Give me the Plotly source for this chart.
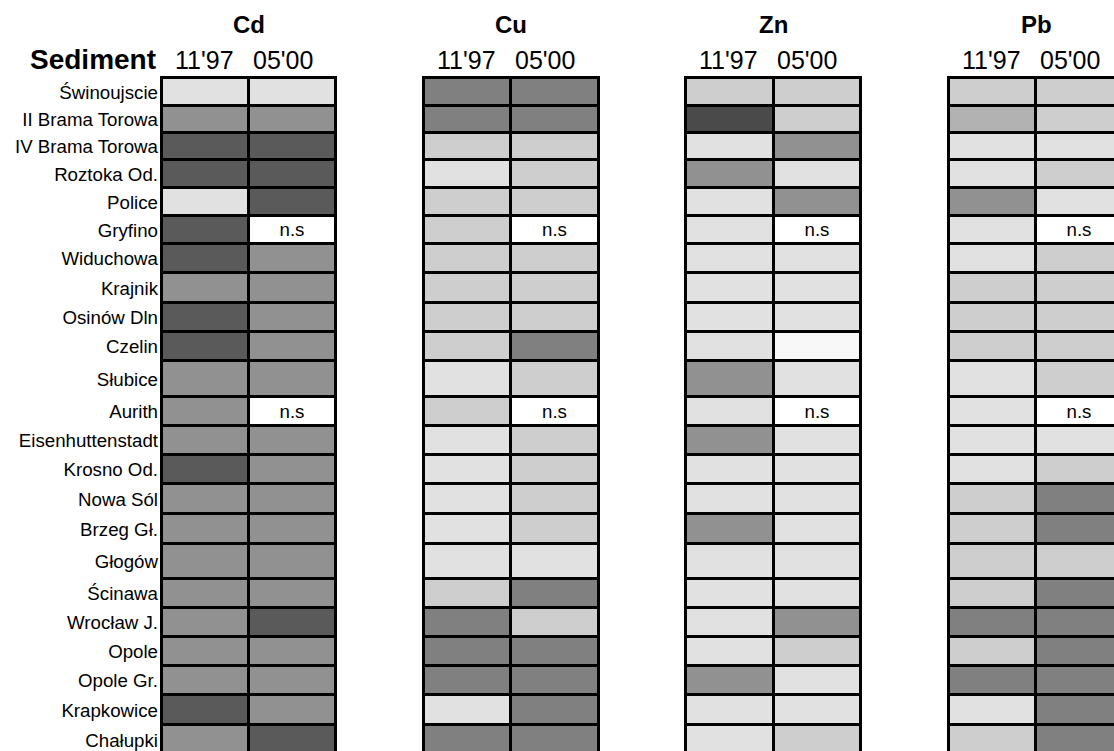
import plotly.graph_objects as go

# Sampling stations along the Odra, from the mouth upstream
stations = [
    "Świnoujscie", "II Brama Torowa", "IV Brama Torowa", "Roztoka Od.", "Police",
    "Gryfino", "Widuchowa", "Krajnik", "Osinów Dln", "Czelin", "Słubice", "Aurith",
    "Eisenhuttenstadt", "Krosno Od.", "Nowa Sól", "Brzeg Gł.", "Głogów", "Ścinawa",
    "Wrocław J.", "Opole", "Opole Gr.", "Krapkowice", "Chałupki",
]
periods = ["11'97", "05'00"]
metals = ["Cd", "Cu", "Zn", "Pb"]

# Contamination class of each station (None = not sampled, "n.s")
cd_1197 = [2, 5, 7, 7, 2, 7, 7, 5, 7, 7, 5, 5, 5, 7, 5, 5, 5, 5, 5, 5, 5, 7, 5]
cd_0500 = [2, 5, 7, 7, 7, None, 5, 5, 5, 5, 5, None, 5, 5, 5, 5, 5, 5, 7, 5, 5, 5, 7]
cu_1197 = [6, 6, 3, 2, 3, 3, 3, 3, 3, 3, 2, 3, 2, 2, 2, 2, 2, 3, 6, 6, 6, 2, 6]
cu_0500 = [6, 6, 3, 3, 3, None, 3, 3, 3, 6, 3, None, 3, 3, 3, 3, 2, 6, 3, 6, 6, 6, 6]
zn_1197 = [3, 8, 2, 5, 2, 2, 2, 2, 2, 2, 5, 2, 5, 2, 2, 5, 2, 2, 2, 2, 5, 2, 2]
zn_0500 = [3, 3, 5, 2, 5, None, 2, 2, 2, 1, 2, None, 2, 2, 2, 2, 2, 2, 5, 3, 2, 2, 3]
pb_1197 = [3, 4, 2, 2, 5, 2, 2, 3, 3, 3, 2, 2, 2, 2, 3, 3, 3, 3, 6, 3, 6, 2, 3]
pb_0500 = [3, 3, 2, 3, 2, None, 3, 3, 3, 3, 3, None, 2, 3, 6, 6, 3, 6, 6, 6, 6, 6, 6]

series = {
    "Cd": [cd_1197, cd_0500],
    "Cu": [cu_1197, cu_0500],
    "Zn": [zn_1197, zn_0500],
    "Pb": [pb_1197, pb_0500],
}

# Grey shade for each class
class_colors = {
    1: "#F8F8F8", 2: "#E1E1E1", 3: "#CECECE", 4: "#B2B2B2",
    5: "#919191", 6: "#808080", 7: "#5A5A5A", 8: "#4A4A4A",
}
NS_COLOR = "#FFFFFF"

# Sheet row heights (px); two rows are taller
row_heights = [28, 27, 27, 28, 28, 28, 29, 30, 29, 29, 36, 29, 29, 29, 30, 30,
               35, 29, 29, 29, 29, 30, 30]
row_top = []
acc = 0
for h in row_heights:
    row_top.append(acc)
    acc += h
row_mid = [t + h / 2 for t, h in zip(row_top, row_heights)]

FONT = "Liberation Sans, Arial, sans-serif"
W, H = 1114, 751
M_L, M_T = 159, 70
GRID_LEFT_PX, COL_PX = 161.5, 87.45
GRID_TOP_PX = 78
PLOT_H = H - M_T


def paper_y(px):
    """Convert a page pixel row into paper coordinates."""
    return (H - px) / PLOT_H


fig = go.Figure()
for k, metal in enumerate(metals):
    for p, vals in enumerate(series[metal]):
        slot = 3 * k + p
        colors = [class_colors[v] if v is not None else NS_COLOR for v in vals]
        texts = ["n.s" if v is None else "" for v in vals]
        fig.add_trace(go.Bar(
            orientation="h",
            y=row_mid,
            x=[1] * len(vals),
            base=[slot - 0.5] * len(vals),
            width=row_heights,
            marker=dict(color=colors, line=dict(color="black", width=3)),
            text=texts,
            textposition="inside",
            insidetextanchor="middle",
            textfont=dict(family=FONT, size=18.7, color="black"),
            name=f"{metal} {periods[p]}",
            hoverinfo="skip",
            showlegend=False,
        ))

x_left = -0.5 - (GRID_LEFT_PX - M_L) / COL_PX
x_right = -0.5 + (W - GRID_LEFT_PX) / COL_PX
y_top = -(GRID_TOP_PX - M_T)
y_bottom = H - GRID_TOP_PX

annotations = []
for k, metal in enumerate(metals):
    annotations.append(dict(
        x=3 * k + 0.5, y=paper_y(25), xref="x", yref="paper",
        text=f"<b>{metal}</b>",
        showarrow=False, xanchor="center", yanchor="middle",
        font=dict(family=FONT, size=24, color="black"),
    ))
    for p, label in enumerate(periods):
        annotations.append(dict(
            x=3 * k + p, y=paper_y(60), xref="x", yref="paper", text=label,
            showarrow=False, xanchor="center", yanchor="middle",
            xshift=-1 if p == 0 else -10,
            font=dict(family=FONT, size=25, color="black"),
        ))
annotations.append(dict(
    x=0, y=paper_y(59), xref="paper", yref="paper", xshift=-1,
    text="<b>Sediment</b>", showarrow=False, xanchor="right", yanchor="middle",
    font=dict(family=FONT, size=28, color="black"),
))

fig.update_layout(
    width=W, height=H,
    margin=dict(l=M_L, r=0, t=M_T, b=0, pad=0),
    paper_bgcolor="white", plot_bgcolor="white",
    barmode="overlay", bargap=0,
    showlegend=False,
    annotations=annotations,
    xaxis=dict(range=[x_left, x_right], visible=False, fixedrange=True),
    yaxis=dict(
        range=[y_bottom, y_top],
        tickvals=row_mid, ticktext=stations,
        ticks="", showgrid=False, zeroline=False, showline=False,
        tickfont=dict(family=FONT, size=18.7, color="black"),
        fixedrange=True,
    ),
)

fig.write_html("out.html", config={"displayModeBar": False})
